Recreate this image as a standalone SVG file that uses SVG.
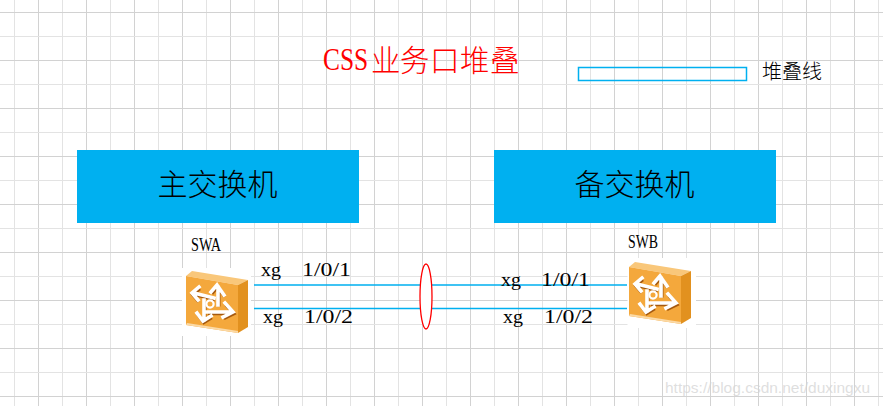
<svg xmlns="http://www.w3.org/2000/svg" width="883" height="406" viewBox="0 0 883 406">
<style>
.gl{stroke:#e3e3e3;stroke-width:1}
.gd{stroke:#d2d2d2;stroke-width:1}
.node{fill:#00b0f0}
.conn{stroke:#00b0f0;stroke-width:1.3;fill:none}
.cn{font-family:"Noto Sans CJK SC",serif;font-weight:300;fill:#000}
.lbl{font-family:"Liberation Serif",serif;font-size:19px;fill:#000}
.ar{fill:none;stroke:#fff;stroke-width:3.6;stroke-linecap:square;stroke-linejoin:miter}
.sh{fill:none;stroke:#a5590f;stroke-width:3.4}
</style>
<defs>
<g id="sw">
<polygon points="0,5 6,0 62,9 52,14" fill="#f9c77a"/>
<polygon points="0,5 52,14 52,62 0,54" fill="#f4a83c"/>
<polygon points="52,14 62,9 62,56 52,62" fill="#e2911f"/>
<polygon points="0,54 52,62 52,60 1,52" fill="#fbd9a5"/>
<path class="sh" transform="translate(0.8,1.6)" d="M32,34V16M25,21L31,14L38,24M28,27L8,22M13,16L6,22L12,29M18,29V49M11,42L17,50L25,45M21,41H45M39,32L47,41L37,46"/>
<path class="ar" d="M32,34V16M25,21L31,14L38,24M28,27L8,22M13,16L6,22L12,29M18,29V49M11,42L17,50L25,45M21,41H45M39,32L47,41L37,46"/>
<circle cx="24" cy="33" r="3.6" fill="#f4a83c" stroke="#fff" stroke-width="2.2"/>
</g>
</defs>
<rect width="883" height="406" fill="#fff"/>
<g id="grid">
<path class="gl" d="M14.5,0V406M62.5,0V406M110.5,0V406M158.5,0V406M206.5,0V406M254.5,0V406M302.5,0V406M350.5,0V406M398.5,0V406M446.5,0V406M494.5,0V406M542.5,0V406M590.5,0V406M638.5,0V406M686.5,0V406M734.5,0V406M782.5,0V406M830.5,0V406M878.5,0V406"/>
<path class="gd" d="M38.5,0V406M86.5,0V406M134.5,0V406M182.5,0V406M230.5,0V406M278.5,0V406M326.5,0V406M374.5,0V406M422.5,0V406M470.5,0V406M518.5,0V406M566.5,0V406M614.5,0V406M662.5,0V406M710.5,0V406M758.5,0V406M806.5,0V406M854.5,0V406"/>
<path class="gd" d="M0,12.5H883M0,60.5H883M0,108.5H883M0,156.5H883M0,204.5H883M0,252.5H883M0,300.5H883M0,348.5H883M0,396.5H883"/>
<path class="gl" d="M0,36.5H883M0,84.5H883M0,132.5H883M0,180.5H883M0,228.5H883M0,276.5H883M0,324.5H883M0,372.5H883"/>
</g>
<g id="title">
<text transform="translate(323 70) scale(.82 1)" font-size="31" fill="#f00" font-family="Liberation Serif,serif">CSS</text>
<text x="371 400 430 460 490" y="71" font-size="29.500" fill="#f00" font-family="Noto Sans CJK SC,serif" font-weight="300">业务口堆叠</text>
</g>
<g id="legend">
<rect x="578.5" y="67.5" width="168" height="13" fill="none" stroke="#00b0f0" stroke-width="1.5"/>
<text class="cn" x="762" y="79" font-size="20">堆叠线</text>
</g>
<g id="connectors">
<path class="conn" d="M254,285H627M254,308.500H627"/>
<ellipse cx="426" cy="296.500" rx="6" ry="32.500" fill="#fff" stroke="#f00" stroke-width="1.300"/>
</g>
<g id="main-switch-box">
<rect class="node" x="77" y="150" width="282" height="73"/>
<text class="cn" x="157.500" y="195" font-size="30">主交换机</text>
</g>
<g id="backup-switch-box">
<rect class="node" x="494" y="150" width="282" height="73"/>
<text class="cn" x="574.500" y="195" font-size="30">备交换机</text>
</g>
<g id="SWA">
<rect x="182" y="268" width="69" height="68" fill="#fff"/>
<use href="#sw" x="186" y="271"/>
<text class="lbl" x="191" y="251" textLength="30" lengthAdjust="spacingAndGlyphs">SWA</text>
</g>
<g id="SWB">
<rect x="627.500" y="258" width="68.500" height="70" fill="#fff"/>
<use href="#sw" x="629" y="262"/>
<text class="lbl" x="628" y="248" textLength="30" lengthAdjust="spacingAndGlyphs">SWB</text>
</g>
<g id="labels">
<text class="lbl" x="261" y="276" textLength="20" lengthAdjust="spacingAndGlyphs">xg</text><text class="lbl" x="302" y="276" textLength="49" lengthAdjust="spacingAndGlyphs">1/0/1</text>
<text class="lbl" x="263" y="323" textLength="20" lengthAdjust="spacingAndGlyphs">xg</text><text class="lbl" x="304" y="323" textLength="49" lengthAdjust="spacingAndGlyphs">1/0/2</text>
<text class="lbl" x="501" y="286" textLength="20" lengthAdjust="spacingAndGlyphs">xg</text><text class="lbl" x="541" y="286" textLength="49" lengthAdjust="spacingAndGlyphs">1/0/1</text>
<text class="lbl" x="503" y="323" textLength="20" lengthAdjust="spacingAndGlyphs">xg</text><text class="lbl" x="544" y="323" textLength="49" lengthAdjust="spacingAndGlyphs">1/0/2</text>
</g>
<text id="watermark" x="665" y="393" font-size="15.500" fill="#d4d4d4" fill-opacity="0.75" font-family="Liberation Sans,sans-serif">https://blog.csdn.net/duxingxu</text>
</svg>
